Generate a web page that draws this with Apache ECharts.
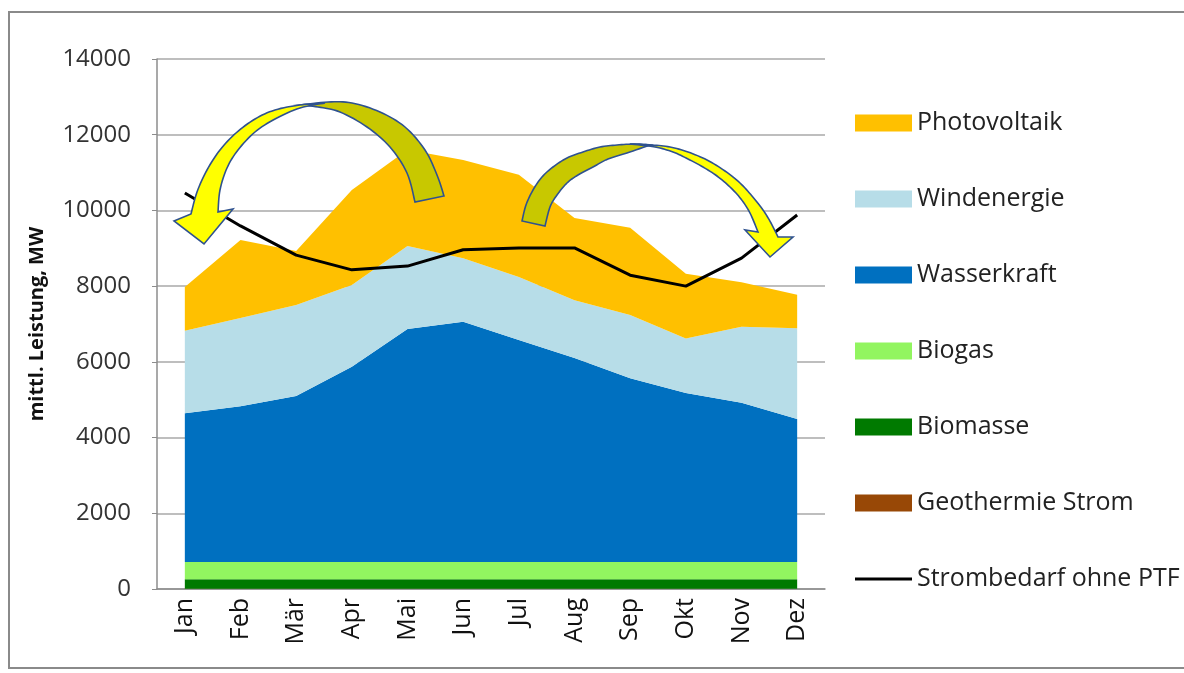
<!DOCTYPE html>
<html>
<head>
<meta charset="utf-8">
<script src="https://cdn.jsdelivr.net/npm/echarts@6/dist/echarts.min.js"></script>
<style>
html,body{margin:0;padding:0;background:#fff;}
#c{width:1184px;height:673px;}
</style>
</head>
<body>
<div id="c"></div>
<script>
// ---- data ----
const months = ['Jan','Feb','Mär','Apr','Mai','Jun','Jul','Aug','Sep','Okt','Nov','Dez'];
const yTicks = [0, 2000, 4000, 6000, 8000, 10000, 12000, 14000];
const geothermie  = [5,5,5,5,5,5,5,5,5,5,5,5];
const biomasse    = [250,250,250,250,250,250,250,250,250,250,250,250];
const biogas      = [460,460,460,460,460,460,460,460,460,460,460,460];
const wasserkraft = [3925,4115,4385,5155,6155,6345,5865,5385,4855,4465,4205,3775];
const windenergie = [2180,2330,2400,2160,2190,1680,1660,1530,1670,1440,2010,2400];
const photovoltaik= [1160,2060,1430,2510,2540,2590,2700,2170,2300,1710,1170,880];
const strombedarf = [10460,9590,8820,8430,8530,8960,9010,9010,8290,8000,8740,9880];

const FONT = '"Open Sans", Lato, sans-serif';

function area(name, data, color) {
  return {
    name: name, type: 'line', stack: 'total', data: data,
    symbol: 'none', color: color,
    lineStyle: { width: 0, opacity: 0 },
    areaStyle: { color: color, opacity: 1 },
    itemStyle: { color: color },
    emphasis: { disabled: true },
    z: 2
  };
}

// Catmull-Rom smoothing of an open edge
function smooth(pts, n) {
  n = n || 8;
  const out = [];
  for (let i = 0; i < pts.length - 1; i++) {
    const p0 = pts[i - 1] || pts[i], p1 = pts[i], p2 = pts[i + 1], p3 = pts[i + 2] || pts[i + 1];
    for (let k = 0; k < n; k++) {
      const t = k / n, t2 = t * t, t3 = t2 * t;
      const f = (a, b, c, d) => 0.5 * ((2 * b) + (-a + c) * t + (2 * a - 5 * b + 4 * c - d) * t2 + (-a + 3 * b - 3 * c + d) * t3);
      out.push([f(p0[0], p1[0], p2[0], p3[0]), f(p0[1], p1[1], p2[1], p3[1])]);
    }
  }
  out.push(pts[pts.length - 1]);
  return out;
}

const OLIVE = '#C8C800', YELLOW = '#FFFF00', OUTLINE = '#2F528F';

// arrow outlines (annotation shapes, pixel space)
const leftOlive = smooth([[444,196],[437,175],[425,150],[405,127],[380,112],[352,103],[328,102],[300,105]])
  .concat(smooth([[300,105],[318,107],[340,112],[367,127],[390,147],[407,173],[415,202]]));
const leftYellow = smooth([[325,103],[300,105],[275,110],[255,119],[236,133],[220,150],[207,170],[197,192],[191,214]])
  .concat([[174,221],[204,244],[233,209]])
  .concat(smooth([[218,212],[220,190],[227,168],[238,150],[255,132],[275,119],[300,108],[325,103]]));
const rightOlive = smooth([[522,221],[526,205],[533,190],[542,177],[553,167],[567,158],[583,152],[600,147],[617,145],[635,144],[650,145]])
  .concat(smooth([[650,145],[627,153],[608,159],[593,167],[578,175],[567,183],[557,195],[550,207],[545,226]]));
const rightYellow = smooth([[630,144],[652,145],[670,147],[688,152],[707,160],[725,171],[740,183],[752,196],[763,210],[771,223],[778,237]])
  .concat([[793,237],[770,257],[745,230]])
  .concat(smooth([[758,232],[750,213],[741,199],[730,187],[717,176],[703,167],[688,159],[673,152],[655,147],[630,144]]));

function poly(points, fill) {
  return { type: 'polygon', z: 100, shape: { points: points },
    style: { fill: fill, stroke: OUTLINE, lineWidth: 1.6, lineJoin: 'miter' } };
}

const chart = echarts.init(document.getElementById('c'), null, { renderer: 'canvas' });
chart.setOption({
  backgroundColor: '#ffffff',
  animation: false,
  textStyle: { fontFamily: FONT },
  grid: { left: 157, right: 359, top: 59, bottom: 84, containLabel: false },
  legend: {
    orient: 'vertical', left: 855, top: 110, itemGap: 50, padding: 0,
    itemWidth: 57, itemHeight: 17, selectedMode: false, symbolKeepAspect: true,
    textStyle: { fontSize: 25, lineHeight: 26, color: '#222', fontFamily: FONT },
    data: [
      { name: 'Photovoltaik', icon: 'rect' },
      { name: 'Windenergie', icon: 'rect' },
      { name: 'Wasserkraft', icon: 'rect' },
      { name: 'Biogas', icon: 'rect' },
      { name: 'Biomasse', icon: 'rect' },
      { name: 'Geothermie Strom', icon: 'rect' },
      { name: 'Strombedarf ohne PTF', icon: 'path://M0,0H57V3H0Z' }
    ]
  },
  xAxis: {
    type: 'category', data: months, boundaryGap: true,
    axisLine: { lineStyle: { color: '#8c8c8c', width: 1.5 } },
    axisTick: { show: false },
    axisLabel: { rotate: 90, fontSize: 25, color: '#111', margin: 9, fontFamily: FONT, interval: 0 }
  },
  yAxis: {
    type: 'value', min: yTicks[0], max: yTicks[yTicks.length - 1], interval: 2000,
    name: 'mittl. Leistung, MW', nameLocation: 'middle', nameGap: 110, nameRotate: 90,
    nameTextStyle: { fontSize: 20, fontWeight: 'bold', color: '#111', fontFamily: FONT },
    axisLine: { show: true, lineStyle: { color: '#8c8c8c', width: 1.5 } },
    axisTick: { show: true, length: 5, lineStyle: { color: '#8c8c8c' } },
    axisLabel: { fontSize: 24, color: '#333', margin: 26, fontFamily: FONT, formatter: function (v) { return String(v); } },
    splitLine: { lineStyle: { color: '#a8a8a8', width: 1.6 } }
  },
  series: [
    area('Geothermie Strom', geothermie, '#984806'),
    area('Biomasse', biomasse, '#007A00'),
    area('Biogas', biogas, '#92F560'),
    area('Wasserkraft', wasserkraft, '#0070C0'),
    area('Windenergie', windenergie, '#B7DDE8'),
    area('Photovoltaik', photovoltaik, '#FFC000'),
    {
      name: 'Strombedarf ohne PTF', type: 'line', data: strombedarf,
      symbol: 'none', color: '#000', lineStyle: { color: '#000', width: 3 },
      itemStyle: { color: '#000' },
      emphasis: { disabled: true }, z: 5
    }
  ],
  graphic: [
    { type: 'rect', z: 0, shape: { x: 9, y: 12, width: 1190, height: 656 },
      style: { fill: 'none', stroke: '#8a8a8a', lineWidth: 2 } },
    poly(leftOlive, OLIVE),
    poly(leftYellow, YELLOW),
    poly(rightOlive, OLIVE),
    poly(rightYellow, YELLOW)
  ]
});
</script>
</body>
</html>
